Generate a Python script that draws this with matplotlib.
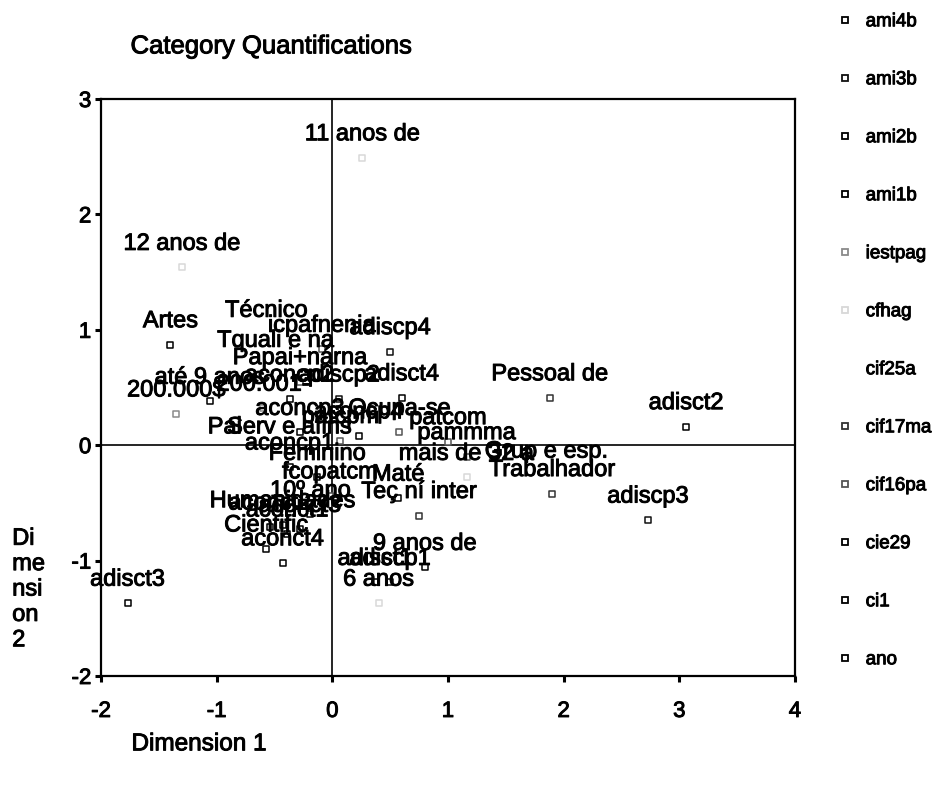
import matplotlib
matplotlib.use("Agg")
import matplotlib.pyplot as plt
from matplotlib.lines import Line2D
import matplotlib.patheffects as pe

plt.rcParams['font.family'] = ['Liberation Sans', 'DejaVu Sans']
plt.rcParams['axes.unicode_minus'] = False

# ---- data: category quantifications per variable ----
series_names = ["ami4b", "ami3b", "ami2b", "ami1b", "iestpag", "cfhag",
                "cif25a", "cif17ma", "cif16pa", "cie29", "ci1", "ano"]

ami4b_labels = ["adisct1", "adisct2", "adisct3", "adisct4"]
ami4b_x = [0.37, 3.06, -1.77, 0.60]
ami4b_y = [-1.19, 0.16, -1.37, 0.41]

ami3b_labels = ["adiscp1", "adiscp2", "adiscp3", "adiscp4"]
ami3b_x = [0.50, 0.06, 2.73, 0.50]
ami3b_y = [-1.19, 0.40, -0.65, 0.81]

ami2b_labels = ["aconcp1", "aconcp2", "aconcp3", "aconcp4"]
ami2b_x = [-0.37, -0.37, -0.28, 0.23]
ami2b_y = [-0.19, 0.40, 0.11, 0.08]

ami1b_labels = ["aconct1", "aconct2", "aconct3", "aconct4"]
ami1b_x = [-0.39, -0.54, -0.28, -0.43]
ami1b_y = [-0.77, -0.71, -0.73, -1.02]

iestpag_labels = ["200.000$", "200.001-"]
iestpag_x = [-1.35, -0.60]
iestpag_y = [0.27, 0.32]

cfhag_labels = ["11 anos de", "12 anos de", "6 anos", "mais de 32 a"]
cfhag_x = [0.26, -1.30, 0.40, 1.16]
cfhag_y = [2.49, 1.54, -1.37, -0.28]

cif25a_labels = ["Técnico", "Tquali e na", "Grup e esp.", "Pai"]
cif25a_x = [-0.57, -0.49, 1.85, -0.93]
cif25a_y = [0.96, 0.70, -0.26, -0.05]

cif17ma_labels = ["Pessoal de", "Trabalhador", "Teç ní inter", "Serv e afins"]
cif17ma_x = [1.88, 1.90, 0.75, -0.37]
cif17ma_y = [0.41, -0.42, -0.61, -0.05]

cif16pa_labels = ["icpafnenia", "Papai+nárna", "fcopatcm", "patcpm",
                  "patcom", "pammma", "Ocupa-se"]
cif16pa_x = [-0.09, -0.28, -0.02, 0.07, 1.00, 1.16, 0.58]
cif16pa_y = [0.83, 0.55, -0.44, 0.04, 0.03, -0.10, 0.11]

cie29_labels = ["Artes", "Humanidades", "Cientific", "Maté"]
cie29_x = [-1.40, -0.43, -0.57, 0.57]
cie29_y = [0.87, -0.69, -0.90, -0.46]

ci1_labels = ["Feminino", "até 9 anos", "9 anos de"]
ci1_x = [-0.13, -1.06, 0.80]
ci1_y = [-0.28, 0.38, -1.06]

ano_labels = ["10º ano"]
ano_x = [-0.19]
ano_y = [-0.60]

series = [
    (ami4b_labels, ami4b_x, ami4b_y),
    (ami3b_labels, ami3b_x, ami3b_y),
    (ami2b_labels, ami2b_x, ami2b_y),
    (ami1b_labels, ami1b_x, ami1b_y),
    (iestpag_labels, iestpag_x, iestpag_y),
    (cfhag_labels, cfhag_x, cfhag_y),
    (cif25a_labels, cif25a_x, cif25a_y),
    (cif17ma_labels, cif17ma_x, cif17ma_y),
    (cif16pa_labels, cif16pa_x, cif16pa_y),
    (cie29_labels, cie29_x, cie29_y),
    (ci1_labels, ci1_x, ci1_y),
    (ano_labels, ano_x, ano_y),
]

edge_colors = ["#000000", "#111111", "#000000", "#000000", "#8a8a8a", "#d8d8d8",
               "#ffffff", "#333333", "#555555", "#000000", "#000000", "#000000"]

x_ticks = [-2, -1, 0, 1, 2, 3, 4]
y_ticks = [-2, -1, 0, 1, 2, 3]

bold_fx = [pe.withStroke(linewidth=0.7, foreground="black")]

# ---- figure ----
fig = plt.figure(figsize=(9.39, 7.86), dpi=100)
ax = fig.add_axes([0.1076, 0.140, 0.739, 0.734])

ax.axhline(0, color="black", lw=1.2, zorder=1)
ax.axvline(0, color="black", lw=1.2, zorder=1)

handles = []
for (labels, xs, ys), name, col in zip(series, series_names, edge_colors):
    ax.scatter(xs, ys, marker="s", s=16, facecolors="white",
               edgecolors=col, linewidths=1.1, zorder=3)
    for lab, x, y in zip(labels, xs, ys):
        ax.annotate(lab, (x, y), xytext=(0, 17), textcoords="offset points",
                    ha="center", va="center", fontsize=17, color="black",
                    zorder=4, path_effects=bold_fx)
    handles.append(Line2D([], [], marker="s", linestyle="none", markersize=4.5,
                          markerfacecolor="white", markeredgecolor=col,
                          markeredgewidth=1.3, label=name))

ax.set_xlim(-2, 4)
ax.set_ylim(-2, 3)
ax.set_xticks(x_ticks)
ax.set_yticks(y_ticks)
ax.tick_params(axis="both", direction="out", length=4, width=2.2,
               labelsize=16, colors="black")
ax.tick_params(axis="x", pad=14)
ax.tick_params(axis="y", pad=3)
for lbl in ax.get_xticklabels() + ax.get_yticklabels():
    lbl.set_path_effects(bold_fx)
for sp in ax.spines.values():
    sp.set_linewidth(1.6)

fig.text(0.139, 0.941, "Category Quantifications", fontsize=18.5,
         ha="left", va="center", path_effects=bold_fx)
fig.text(0.013, 0.250, "Di\nme\nnsi\non\n2", fontsize=17, ha="left",
         va="center", linespacing=1.2, path_effects=bold_fx)
fig.text(0.140, 0.053, "Dimension 1", fontsize=17.5, ha="left", va="center",
         path_effects=bold_fx)

leg = fig.legend(handles=handles, loc="upper left", bbox_to_anchor=(0.878, 1.0),
                 frameon=False, fontsize=13.5, labelspacing=2.18,
                 handlelength=0.8, handletextpad=0.7, borderaxespad=0.3)
for t in leg.get_texts():
    t.set_path_effects(bold_fx)

fig.savefig("out.png", dpi=100)
